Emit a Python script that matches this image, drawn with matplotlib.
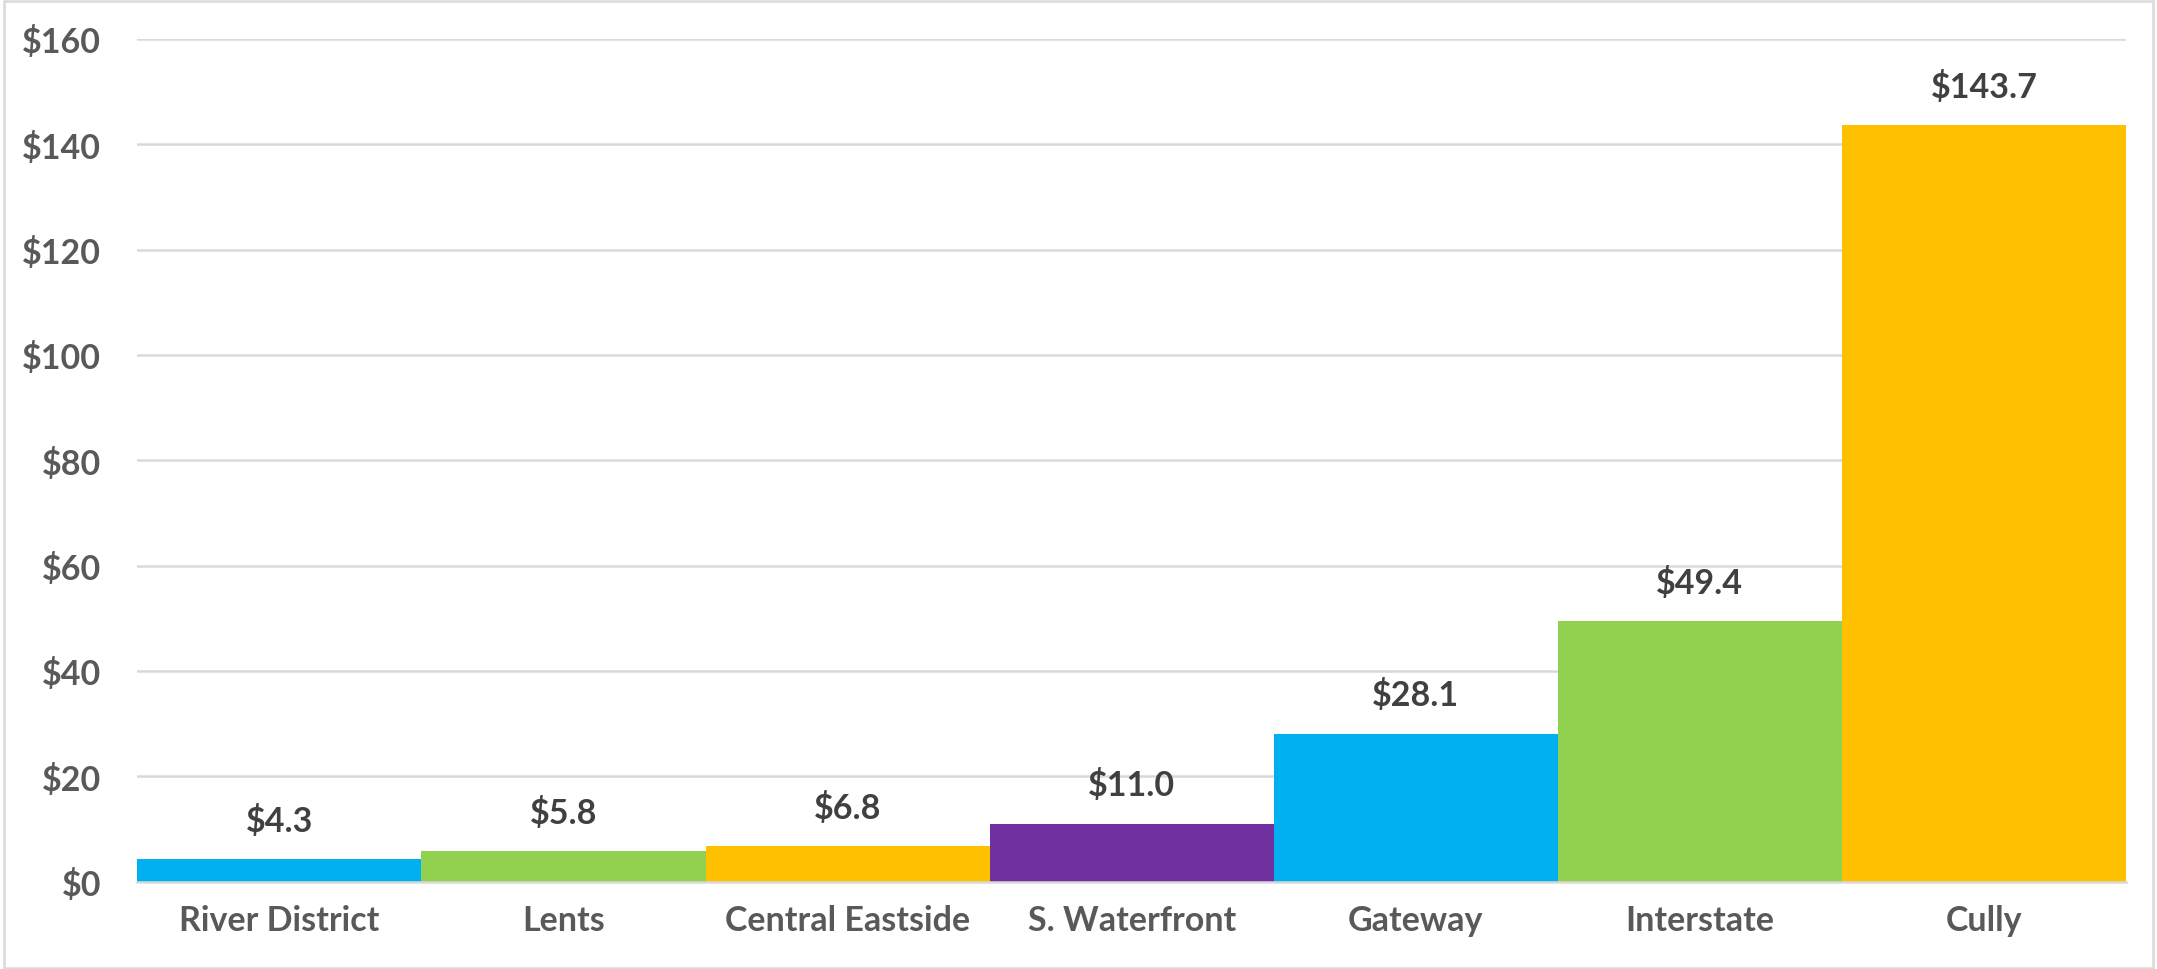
import matplotlib
matplotlib.use("Agg")
import matplotlib.pyplot as plt
from matplotlib.patches import Rectangle

categories = ["River District", "Lents", "Central Eastside", "S. Waterfront", "Gateway", "Interstate", "Cully"]
values = [4.3, 5.8, 6.8, 11.0, 28.1, 49.4, 143.7]
colors = ["#00B0F0", "#92D050", "#FFC000", "#7030A0", "#00B0F0", "#92D050", "#FFC000"]
yticks = [0, 20, 40, 60, 80, 100, 120, 140, 160]
ytick_labels = ["$0", "$20", "$40", "$60", "$80", "$100", "$120", "$140", "$160"]

TXT = "#595959"
plt.rcParams['font.family'] = ['Lato', 'DejaVu Sans']

fig = plt.figure(figsize=(21.57, 9.70), dpi=100)
ax = fig.add_axes([0.0637, 0.0901, 0.9219, 0.8687])

x = list(range(len(categories)))
ax.bar(x, values, width=1.0, color=colors, zorder=3)
ax.set_xlim(-0.5, len(categories) - 0.5)
ax.set_ylim(0, 160)
ax.set_yticks(yticks)
ax.set_yticklabels(ytick_labels)
ax.set_xticks(x)
ax.set_xticklabels(categories)

for xi, v in zip(x, values):
    ax.annotate(f"${v:.1f}", (xi, v), xytext=(0, 16), textcoords="offset points",
                ha="center", va="bottom", fontsize=24.5, fontweight="bold", color="#404040")

ax.grid(axis="y", color="#D9D9D9", linewidth=1.8, zorder=0)
for s in ["top", "right", "left"]:
    ax.spines[s].set_visible(False)
ax.spines["bottom"].set_color("#D9D9D9")
ax.spines["bottom"].set_linewidth(1.8)
ax.spines["bottom"].set_zorder(4)
ax.tick_params(axis="both", length=0, labelsize=24.5, labelcolor=TXT)
ax.tick_params(axis="y", pad=26)
ax.tick_params(axis="x", pad=16)
for lab in ax.get_xticklabels() + ax.get_yticklabels():
    lab.set_fontweight("bold")

fig.patches.append(Rectangle((0.002, 0.001), 0.996, 0.997, transform=fig.transFigure,
                             fill=False, edgecolor="#D9D9D9", linewidth=1.8))

fig.savefig("out.png", dpi=100, facecolor="white")
